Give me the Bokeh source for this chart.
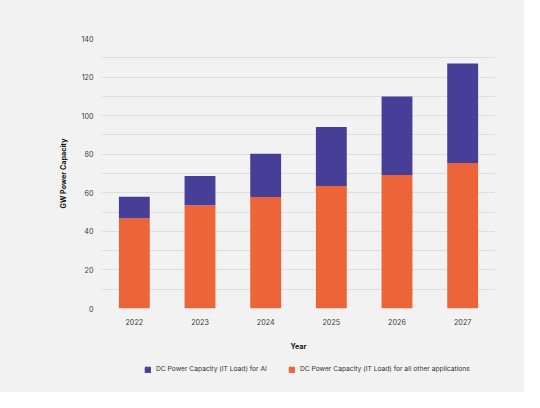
from bokeh.plotting import figure
from bokeh.layouts import column
from bokeh.models import ColumnDataSource, Legend, LegendItem, SingleIntervalTicker
from bokeh.embed import file_html
from bokeh.resources import INLINE

years = ['2022', '2023', '2024', '2025', '2026', '2027']
other_apps = [46.8, 53.6, 57.8, 63.5, 69.2, 75.5]
ai_load = [11.1, 15.1, 22.4, 30.6, 40.7, 51.6]

series = ['other', 'ai']
colors = ['#ec6538', '#473f97']
labels = ['DC Power Capacity (IT Load) for all other applications',
          'DC Power Capacity (IT Load) for AI']

source = ColumnDataSource(data=dict(years=years, other=other_apps, ai=ai_load))

bg = '#f2f2f2'
font = 'Inter'

p = figure(x_range=years, y_range=(0, 140), width=524, height=356,
           output_backend="svg", toolbar_location=None,
           background_fill_color=bg, border_fill_color=bg,
           min_border_left=101, min_border_right=29, min_border_top=38, min_border_bottom=48)

r = p.vbar_stack(series, x='years', width=0.47, color=colors, line_color=None, source=source)

p.outline_line_color = None
p.xgrid.grid_line_color = None
p.ygrid.grid_line_color = '#dedede'
p.ygrid.grid_line_width = 1
p.ygrid.minor_grid_line_color = '#dedede'
p.yaxis.ticker = SingleIntervalTicker(interval=20, num_minor_ticks=2)

for ax in (p.xaxis, p.yaxis):
    ax.axis_line_color = None
    ax.major_tick_line_color = None
    ax.minor_tick_line_color = None
    ax.major_tick_out = 0
    ax.minor_tick_out = 0
    ax.major_label_text_font = font
    ax.major_label_text_font_size = '7.2px'
    ax.major_label_text_color = '#3a3a3a'
    ax.axis_label_text_font = font
    ax.axis_label_text_font_size = '7.2px'
    ax.axis_label_text_font_style = 'bold'
    ax.axis_label_text_color = '#111111'

p.yaxis.axis_label = 'GW Power Capacity'
p.yaxis.major_label_standoff = 8
p.yaxis.axis_label_standoff = 10
p.xaxis.axis_label = 'Year'
p.xaxis.major_label_standoff = 10
p.xaxis.axis_label_standoff = 14

# legend lives in a small strip under the chart
leg = figure(width=524, height=36, output_backend="svg", toolbar_location=None,
             background_fill_color=bg, border_fill_color=bg,
             min_border=0, x_range=(0, 1), y_range=(0, 1))
leg.axis.visible = False
leg.grid.visible = False
leg.outline_line_color = None
# keys only: their single point sits outside the strip's range
keys = ColumnDataSource(data=dict(x=[-5], y=[-5]))
r_ai = leg.rect(x='x', y='y', width=0.1, height=0.1, color=colors[1], source=keys)
r_other = leg.rect(x='x', y='y', width=0.1, height=0.1, color=colors[0], source=keys)

legend = Legend(items=[LegendItem(label=labels[1], renderers=[r_ai]),
                       LegendItem(label=labels[0], renderers=[r_other])],
                orientation='horizontal', location=(43, 19),
                background_fill_alpha=0, border_line_color=None,
                label_text_font=font, label_text_font_size='6.7px',
                label_text_color='#333333', glyph_width=7, glyph_height=7,
                spacing=21, margin=0, padding=4, label_standoff=5)
leg.add_layout(legend)

layout = column(p, leg, spacing=0, styles={'background-color': bg})
open("out.html", "w").write(file_html(layout, INLINE))
